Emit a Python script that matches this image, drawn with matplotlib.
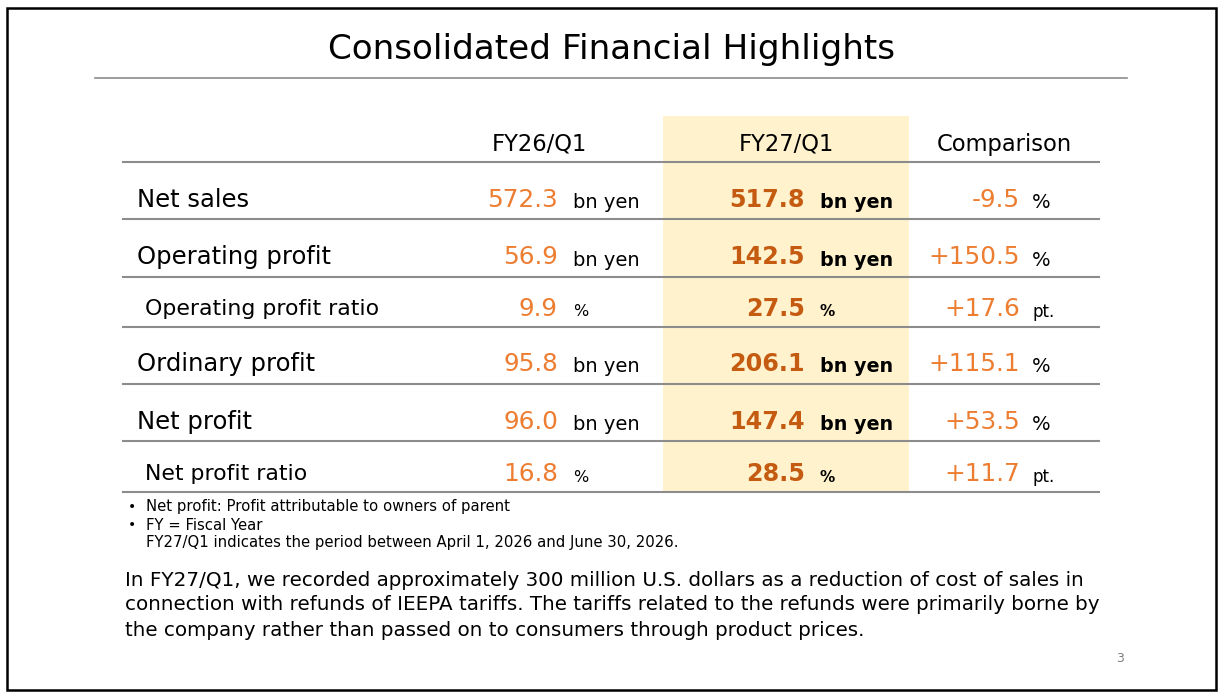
import matplotlib
matplotlib.use("Agg")
import matplotlib.pyplot as plt
from matplotlib.patches import Rectangle

plt.rcParams['font.family'] = ['DejaVu Sans']

title = "Consolidated Financial Highlights"
col_headers = ["FY26/Q1", "FY27/Q1", "Comparison"]
row_labels = ["Net sales", "Operating profit", "Operating profit ratio",
              "Ordinary profit", "Net profit", "Net profit ratio"]
row_is_ratio = [False, False, True, False, False, True]
fy26_values = ["572.3", "56.9", "9.9", "95.8", "96.0", "16.8"]
fy27_values = ["517.8", "142.5", "27.5", "206.1", "147.4", "28.5"]
value_units = ["bn yen", "bn yen", "%", "bn yen", "bn yen", "%"]
comparison = ["-9.5", "+150.5", "+17.6", "+115.1", "+53.5", "+11.7"]
comparison_units = ["%", "%", "pt.", "%", "%", "pt."]
footnotes = ["Net profit: Profit attributable to owners of parent",
             "FY = Fiscal Year",
             "FY27/Q1 indicates the period between April 1, 2026 and June 30, 2026."]
paragraph = ["In FY27/Q1, we recorded approximately 300 million U.S. dollars as a reduction of cost of sales in",
             "connection with refunds of IEEPA tariffs. The tariffs related to the refunds were primarily borne by",
             "the company rather than passed on to consumers through product prices."]
page_number = "3"

W, H = 1224, 695
fig = plt.figure(figsize=(W / 100, H / 100), dpi=100)
ax = fig.add_axes([0, 0, 1, 1])
ax.set_xlim(0, W)
ax.set_ylim(H, 0)
ax.axis("off")

ORANGE = "#ED7D31"
DARK_ORANGE = "#C55A11"
LINE = "#8C8C8C"

# border
ax.add_patch(Rectangle((7, 8), 1209, 682, fill=False, edgecolor="black", lw=1.8))

# title
ax.text(611, 50, title, ha="center", va="center", fontsize=24.6, color="black")
ax.plot([95, 1127], [78, 78], color=LINE, lw=1.2)

# highlight column
ax.add_patch(Rectangle((663, 116), 246, 376, facecolor="#FFF2CC", edgecolor="none", zorder=0))

# headers
hx = [539, 786, 1004]
for x, h in zip(hx, col_headers):
    ax.text(x, 144, h, ha="center", va="center", fontsize=16.3, color="black")
ax.plot([123, 1099], [162, 162], color=LINE, lw=1.5)

row_y = [200, 257, 309, 364, 422, 474]
line_y = [219, 277, 327, 384, 441, 492]
for i, lab in enumerate(row_labels):
    y = row_y[i]
    ratio = row_is_ratio[i]
    ax.text(145 if ratio else 137, y, lab, ha="left", va="center",
            fontsize=15.8 if ratio else 17.5, color="black")
    ax.text(558, y, fy26_values[i], ha="right", va="center", fontsize=17.8, color=ORANGE)
    ax.text(573, y + 3, value_units[i], ha="left", va="center",
            fontsize=11.5 if ratio else 14, color="black")
    ax.text(805, y, fy27_values[i], ha="right", va="center", fontsize=17.2,
            color=DARK_ORANGE, fontweight="bold")
    ax.text(820, y + 3, value_units[i], ha="left", va="center",
            fontsize=11 if ratio else 13.8, color="black", fontweight="bold")
    ax.text(1020, y, comparison[i], ha="right", va="center", fontsize=17.8, color=ORANGE)
    ax.text(1032, y + 3, comparison_units[i], ha="left", va="center",
            fontsize=12 if ratio else 14, color="black")
    ax.plot([123, 1099], [line_y[i], line_y[i]], color=LINE, lw=1.5)

# footnotes
fy = [507, 525, 543]
for j, t in enumerate(footnotes):
    if j < 2:
        ax.text(128, fy[j], "•", ha="left", va="center", fontsize=10, color="black")
    ax.text(146, fy[j], t, ha="left", va="center", fontsize=10.7, color="black")

# paragraph
py = [581, 605, 630]
for y, t in zip(py, paragraph):
    ax.text(125, y, t, ha="left", va="center", fontsize=14.3, color="black")

ax.text(1120, 659, page_number, ha="center", va="center", fontsize=9, color="#7F7F7F")

fig.savefig("out.png", dpi=100)
